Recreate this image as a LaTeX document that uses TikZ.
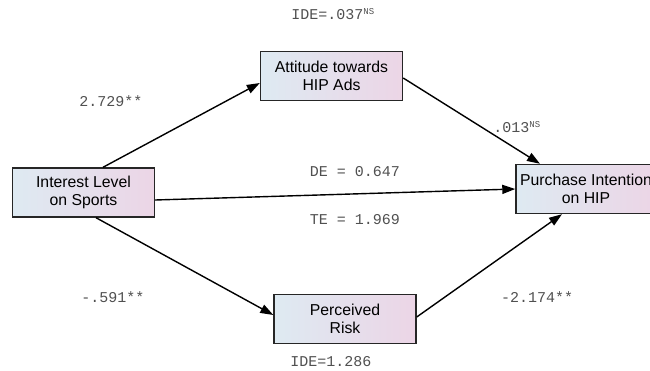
\documentclass[tikz,border=0pt]{standalone}
\usepackage{fontspec}
\setmainfont{Liberation Sans}
\newfontfamily\coeffont{Liberation Mono}
\usetikzlibrary{arrows.meta}
\definecolor{boxblue}{RGB}{222,234,242}
\definecolor{boxpink}{RGB}{236,213,230}
\definecolor{coefgray}{RGB}{80,80,80}
\newcommand{\nsup}{\textsuperscript{\fontsize{9}{9}\selectfont NS}}

\begin{document}
\begin{tikzpicture}[
    x=1pt,y=-1pt,
    var/.style={rectangle,draw=black!85,line width=1.4pt,left color=boxblue,right color=boxpink,
      minimum width=142pt,minimum height=49pt,inner sep=0pt,align=center,
      font=\fontsize{15.8}{18}\selectfont},
    coef/.style={font=\coeffont\fontsize{15}{17}\selectfont,text=coefgray,inner sep=0pt},
    arrow/.style={-{Triangle[length=13pt,width=9pt]},line width=1.4pt}
  ]
    \clip (0,0) rectangle (650,371);
    \node[var] (interest) at (83.5,192.5) {Interest Level\\on Sports};
    \node[var] (attitude) at (331.5,76) {Attitude towards\\HIP Ads};
    \node[var,minimum width=140pt] (purchase) at (586,189) {Purchase Intention\\on HIP};
    \node[var] (risk) at (345,319) {Perceived\\Risk};

    \draw[arrow] ([xshift=19.5pt]interest.north) -- ([yshift=-7pt]attitude.west);
    \draw[arrow] ([yshift=-2pt]attitude.east) -- ([xshift=-46pt]purchase.north);
    \draw[arrow] ([yshift=-7.5pt]interest.east) -- (purchase.west);
    \draw[arrow] ([xshift=12.5pt]interest.south) -- ([yshift=4pt]risk.west);
    \draw[arrow] ([yshift=2pt]risk.east) -- ([xshift=-24pt]purchase.south);

    \node[coef] (ide1) at (333,14) {IDE=.037\nsup};
    \node[coef] (a1) at (111,101) {2.729**};
    \node[coef] (b1) at (517,127) {.013\nsup};
    \node[coef] (de) at (355,172) {DE = 0.647};
    \node[coef] (te) at (355,220) {TE = 1.969};
    \node[coef] (a2) at (113,297) {-.591**};
    \node[coef] (b2) at (537,297) {-2.174**};
    \node[coef] (ide2) at (331,362) {IDE=1.286};
  \end{tikzpicture}
\end{document}
